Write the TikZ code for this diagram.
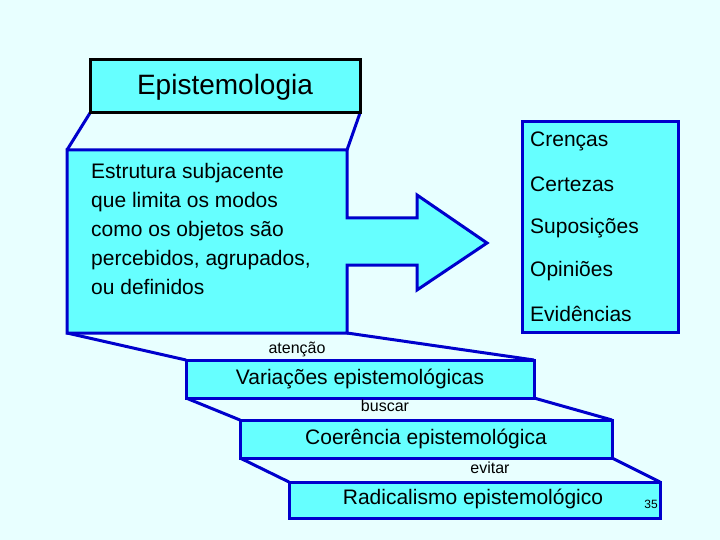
\documentclass[tikz,border=0pt]{standalone}
\usepackage{fontspec}
\setmainfont{Liberation Sans}
\definecolor{bg}{HTML}{E8FFFF}
\definecolor{cy}{HTML}{66FFFF}
\definecolor{bl}{HTML}{0000CC}
\begin{document}
\begin{tikzpicture}[x=1pt,y=-1pt,
  box/.style={draw=bl,line width=3pt,fill=cy},
  lnk/.style={draw=bl,line width=3pt},
  lbl/.style={font=\fontsize{16}{18}\selectfont,inner sep=0pt},
  txt/.style={font=\fontsize{21}{24}\selectfont,inner sep=0pt}]
\fill[bg] (0,0) rectangle (720,540);
\useasboundingbox (0,0) rectangle (720,540);
% connecting lines
\draw[lnk] (90,113) -- (67,150);
\draw[lnk] (360,113) -- (347,150);
\draw[lnk] (67,333) -- (186,360);
\draw[lnk] (347,333) -- (534,360);
\draw[lnk] (186,398) -- (240,420);
\draw[lnk] (534,398) -- (612,420);
\draw[lnk] (240,458) -- (289,482);
\draw[lnk] (612,458) -- (660,482);
% top box
\draw[fill=cy,draw=black,line width=3pt] (90,60) rectangle (360,113);
\node[font=\fontsize{28}{32}\selectfont] (epi) at (225,87) {Epistemologia};
% main box with arrow
\draw[box,line join=miter] (67,150) -- (347,150) -- (347,218) -- (417,218) -- (417,195) -- (487,243) -- (417,290) -- (417,265) -- (347,265) -- (347,333) -- (67,333) -- cycle;
\node[txt,align=left,anchor=north west,font=\fontsize{21}{29}\selectfont] (est) at (91,163) {Estrutura subjacente\\que limita os modos\\como os objetos são\\percebidos, agrupados,\\ou definidos};
% right box
\draw[box] (522,122) rectangle (678,332);
\foreach \t/\y/\n in {Crenças/141/a,Certezas/184/b,Suposições/228/c,Opiniões/271/d,Evidências/314/e}
  \node[txt,anchor=west] (r\n) at (530,\y) {\t};
% lower boxes
\draw[box] (186,360) rectangle (534,398);
\node[txt] (var) at (360,379) {Variações epistemológicas};
\draw[box] (240,420) rectangle (612,458);
\node[txt] (coe) at (426,439) {Coerência epistemológica};
\draw[box] (289,482) rectangle (660,518);
\node[txt] (rad) at (473,499) {Radicalismo epistemológico};
\node[font=\fontsize{12}{14}\selectfont,inner sep=0pt] (num) at (651,504) {35};
\node[lbl] (at) at (297,349) {atenção};
\node[lbl] (bu) at (385,406) {buscar};
\node[lbl] (ev) at (490,468) {evitar};
\end{tikzpicture}
\end{document}
